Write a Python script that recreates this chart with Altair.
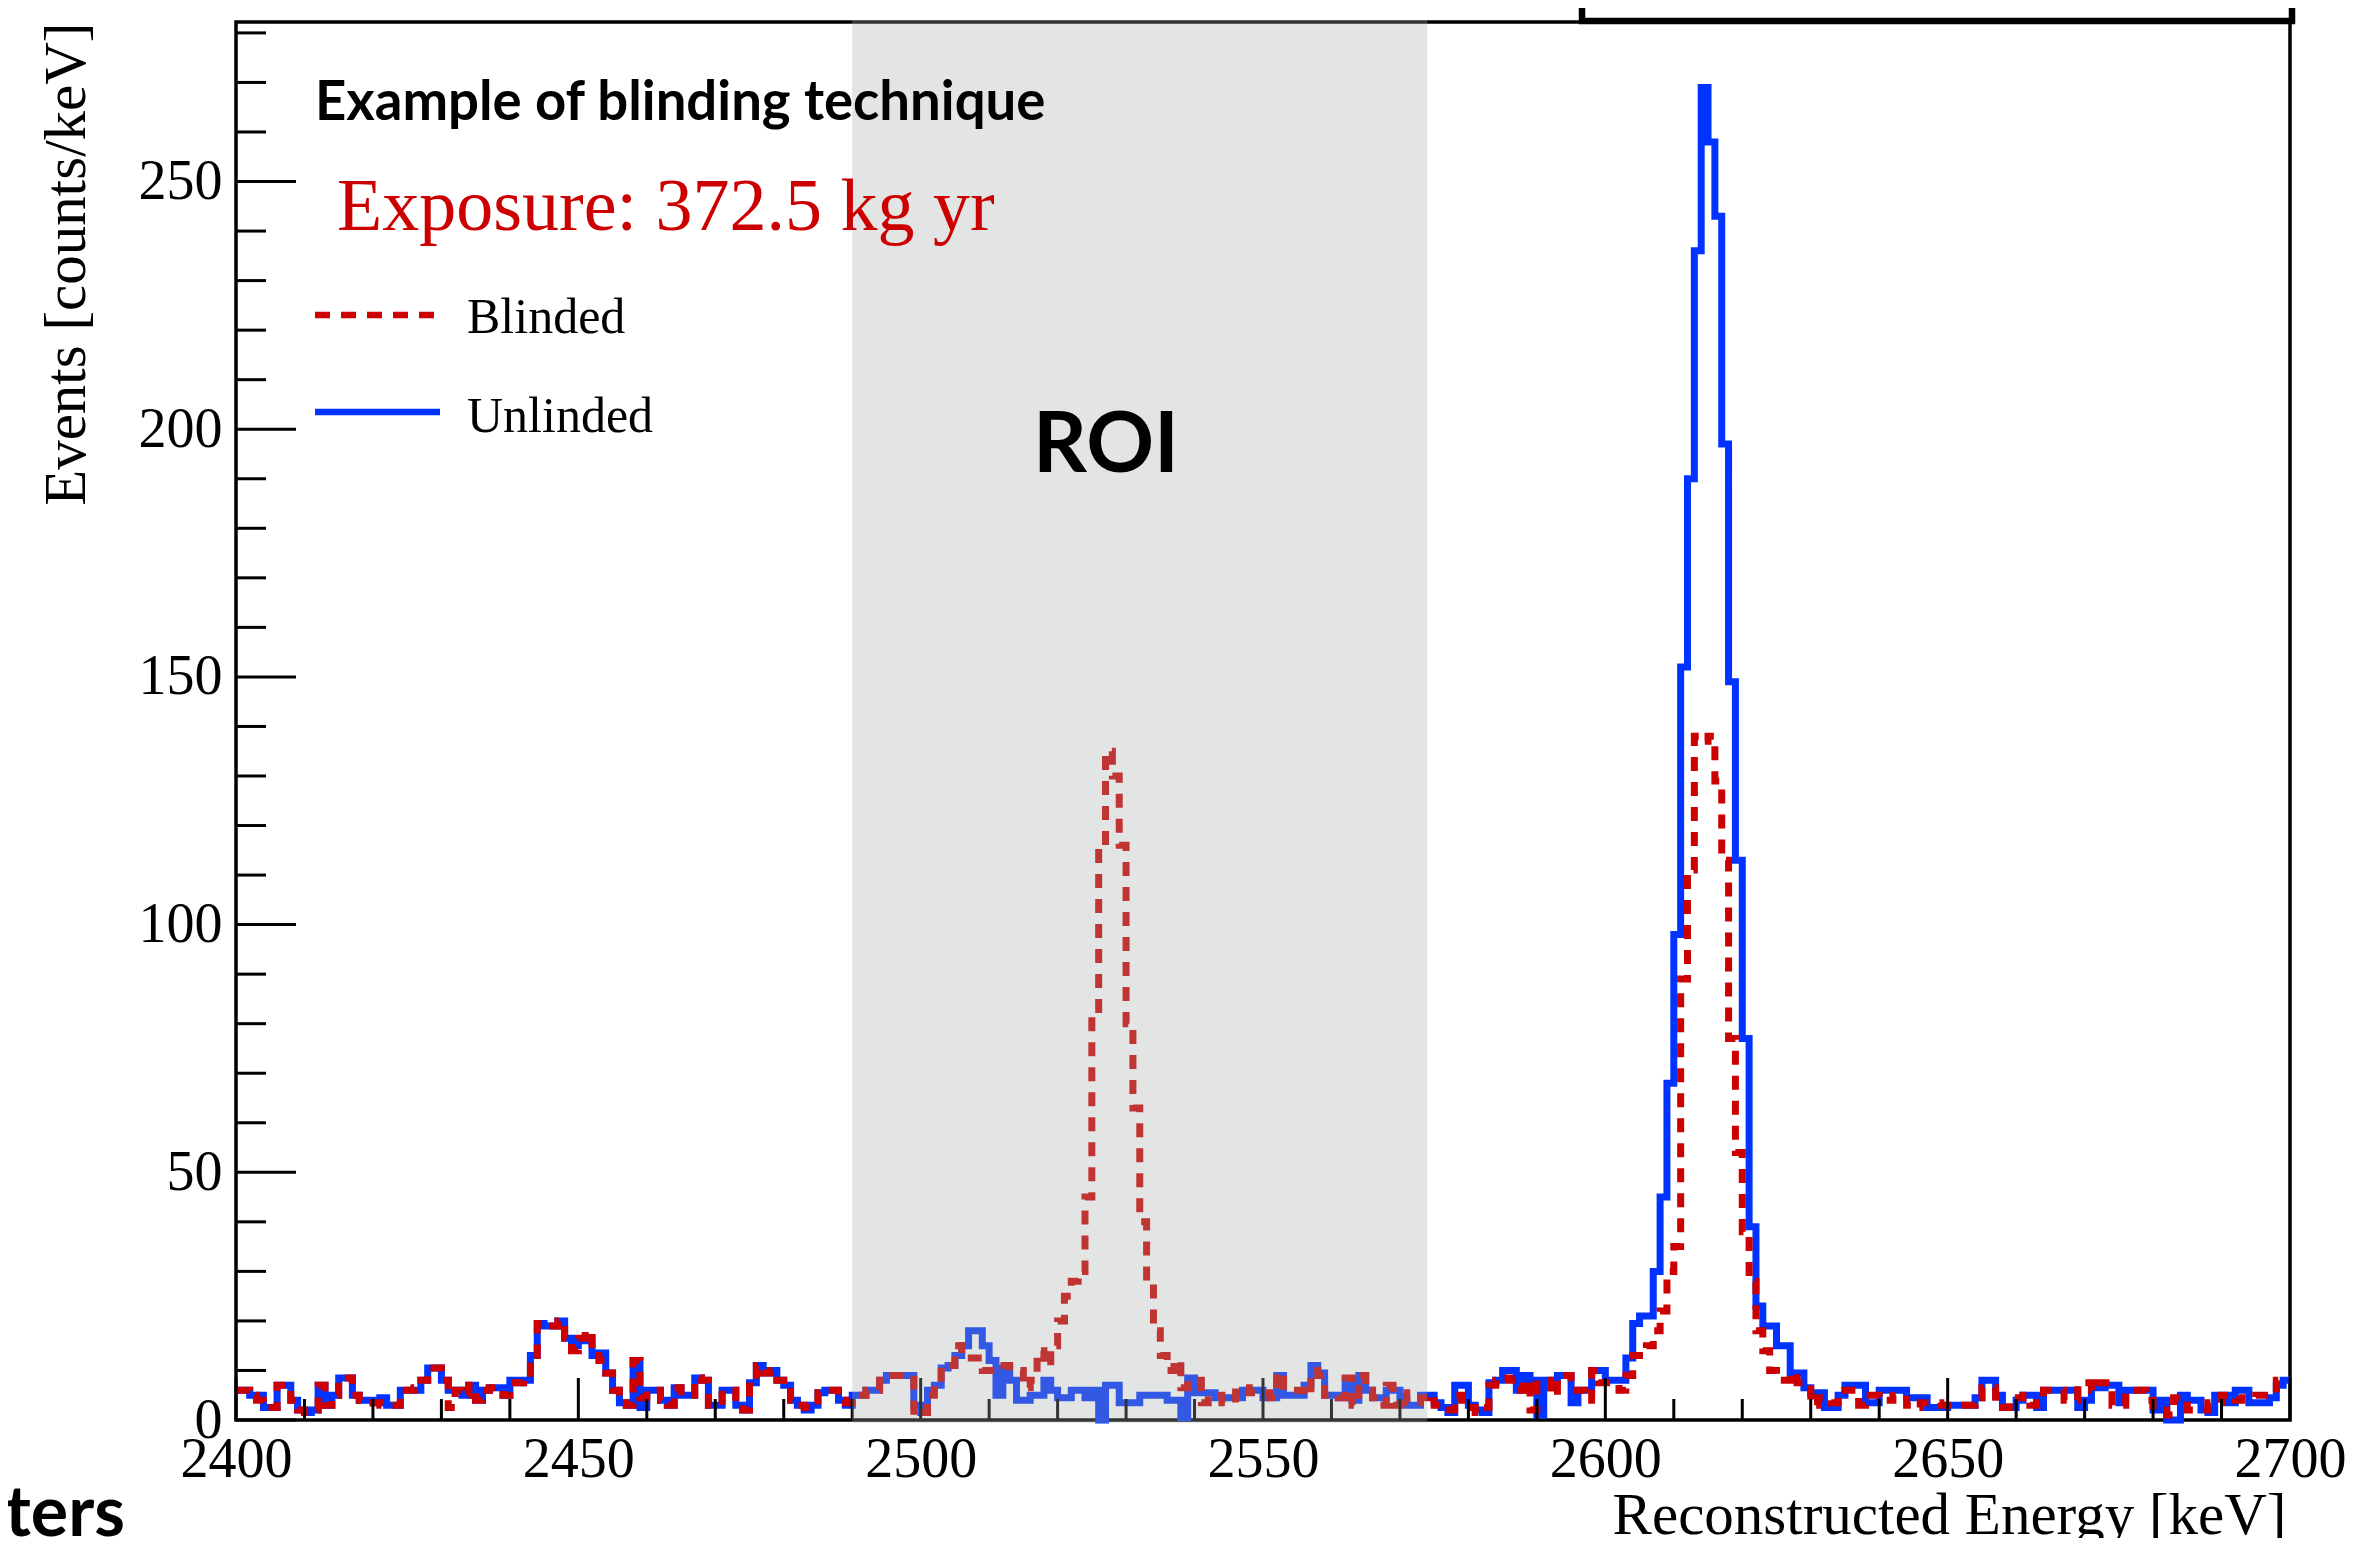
import altair as alt
import pandas as pd

# ---------------- data (1 keV bins, value listed at each bin's lower edge: 2400, 2401, ...) ----------------
e_start = 2400
unblinded = [
    6, 6, 5, 5, 2.5, 2.5, 7, 7, 4, 2,
    1.5, 2, 7, 3, 5, 8.5, 8.5, 5, 4, 4,
    3.5, 4.5, 3, 3, 6, 6, 6, 8, 10.5, 10.5,
    8, 6, 6, 5, 7, 4, 6, 6.5, 6.5, 5,
    8, 7.5, 8, 13, 19.5, 19, 19, 20, 16.5, 15,
    16, 16.5, 13, 13.5, 9.5, 6, 3.5, 3, 12, 2.5,
    6, 6, 4, 3, 6.5, 5, 5, 8.5, 8, 3,
    3, 6, 6, 3, 2, 7.5, 11, 9.5, 10, 8,
    7, 4, 3, 2, 3, 5.5, 6, 6, 4, 3,
    5, 5, 6, 6, 8, 9, 9, 9, 9, 3,
    1.5, 6, 7, 10.5, 11, 13, 15, 18, 18, 15,
    12, 5, 10.5, 8, 4, 4, 5, 5, 8, 6,
    4.5, 4.5, 6, 6, 4.5, 6, 0, 7, 7, 3.5,
    3.5, 3.5, 5, 5, 5, 5, 4, 4, 0.5, 8.5,
    5.5, 5.5, 5.5, 4.5, 4.5, 4.5, 4.5, 6, 6, 6,
    4.5, 4.5, 9, 5, 5, 5, 7, 11, 9.5, 5,
    5, 4.5, 8, 4, 9, 6, 4.5, 4.5, 6, 6,
    4.5, 3, 3, 5, 5, 3.5, 2.5, 1.5, 7, 7,
    3, 2, 1.5, 7.5, 8, 10, 10, 6, 9, 8,
    1, 8, 8, 9, 9, 3.5, 6, 6, 10, 10,
    8, 8, 8, 12.5, 19.5, 21, 21, 30, 45, 68,
    98, 152, 190, 236, 269, 258, 243, 197, 149, 113,
    77, 39, 23, 19, 19, 15, 15, 9.5, 9.5, 6.5,
    5.5, 5.5, 2.5, 2.5, 5, 7, 7, 7, 3.5, 3.5,
    6, 6, 6, 6, 4.5, 4.5, 4.5, 2.5, 2.5, 2.5,
    3, 3, 3, 3, 4.5, 8, 8, 5, 2.5, 2.5,
    4, 5, 5, 2.5, 6, 6, 6, 6, 6, 2.5,
    4, 6.5, 6.5, 7, 7, 3.5, 6, 6, 6, 6,
    2, 4, 0, 0, 5, 4, 4, 2, 1.5, 5,
    5, 3.5, 6, 6, 3.5, 3.5, 3.5, 4.5, 7, 8, 8,
]
blinded = [
    6, 6, 5, 4, 2.5, 2.5, 7, 7, 4, 2,
    1.5, 2, 7, 3, 5, 8.5, 8.5, 5, 4, 3.5,
    3.5, 3, 3, 3, 6, 6, 6.5, 8, 10.5, 10.5,
    8, 2.5, 6, 5, 7, 4, 6, 6.5, 6.5, 5,
    7.5, 7.5, 8, 13, 19.5, 19, 19, 20, 16.5, 14,
    16.5, 18, 13, 12, 9.5, 6, 3.5, 3, 12, 4.5,
    6, 6, 4, 3, 6.5, 5, 5, 8.5, 8, 3,
    3, 6, 6, 3, 2, 7.5, 11, 9.5, 10, 8,
    7, 4, 3, 2.5, 3, 5.5, 6, 6, 4, 3.5,
    5, 5, 6, 6, 8, 9, 9, 9, 9, 1,
    1.5, 5, 7.5, 11, 11, 15, 12.5, 12.5, 12.5, 10,
    10, 11, 11, 10, 10, 6.5, 8, 14, 11, 15,
    20, 25, 28, 30, 45, 82, 116, 135, 130, 116,
    80, 63, 40, 28, 18, 13, 10, 12, 6.5, 8,
    8, 3.5, 5, 5, 3.5, 3.5, 6.5, 6.5, 5.5, 5.5,
    5.5, 4.5, 9.5, 6, 6, 6, 5, 10, 9, 5,
    5, 4.5, 8.5, 3, 9, 6, 4.5, 3, 7, 3,
    5.5, 3.5, 3.5, 4.5, 5, 3, 2, 2, 5, 4,
    2.5, 1.5, 2.5, 7, 8, 8.5, 8, 6, 8, 2,
    8, 8, 5, 9, 9, 6, 6, 4, 10, 7.5,
    7.5, 7.5, 6, 9, 13, 13, 15, 18, 22, 30,
    35, 89, 111, 138, 137, 138, 129, 113, 77, 54,
    38, 28, 18, 14, 10, 8, 8, 9.5, 7.5, 7.5,
    3, 4.5, 4.5, 3.5, 5, 6, 6, 3, 5, 5,
    4, 4, 5, 5, 3, 2.5, 3.5, 3.5, 3.5, 3,
    3, 3, 3, 3, 4.5, 6.5, 6.5, 2.5, 2.5, 4.5,
    4.5, 5, 3, 3.5, 6, 6, 6, 4, 4, 7.5,
    7.5, 6, 7.5, 7.5, 3, 3, 6, 6, 6, 4,
    2, 2, 1, 4.5, 4.5, 2, 2, 2, 3.5, 3.5,
    5, 5, 4, 4.5, 4.5, 5, 5, 5, 8, 8, 8,
]
roi_low = [2490]
roi_high = [2574]
x_major = [2400, 2450, 2500, 2550, 2600, 2650, 2700]
x_minor = [v for v in range(2400, 2701, 10) if v % 50 != 0]
y_major = [0, 50, 100, 150, 200, 250]
y_minor = [v for v in range(10, 281, 10) if v % 50 != 0]
x_domain = [2400, 2700]
y_domain = [0, 282.2]

# ---------------- layout / style ----------------
W, H = 2054, 1398
SERIF = "Liberation Serif"
SANS = "Lato"
BLUE = "#0033ff"
RED = "#cc0000"

xs = alt.Scale(domain=x_domain, nice=False, zero=False)
ys = alt.Scale(domain=y_domain, nice=False, zero=False)

x_axis = alt.Axis(
    values=x_major, format="d", ticks=False, domain=False, grid=False,
    labelFont=SERIF, labelFontSize=56, labelColor="black", labelPadding=12,
    labelFlush=False, labelOverlap=False,
    title="Reconstructed Energy [keV]", titleFont=SERIF, titleFontSize=59,
    titleFontWeight="normal", titleColor="black", titleAlign="right",
    titleAnchor="end", titleBaseline="alphabetic", titleX=W - 4, titleY=113,
)
y_axis = alt.Axis(
    values=y_major, format="d", ticks=False, domain=False, grid=False,
    labelFont=SERIF, labelFontSize=56, labelColor="black", labelPadding=14,
    labelFlush=False, labelOverlap=False,
    title="Events [counts/keV]", titleFont=SERIF, titleFontSize=59,
    titleFontWeight="normal", titleColor="black", titleAngle=270,
    titleAlign="right", titleBaseline="alphabetic", titleX=-152, titleY=0,
)


def X(field):
    return alt.X(f"{field}:Q", scale=xs, axis=x_axis)


def Y(field):
    return alt.Y(f"{field}:Q", scale=ys, axis=y_axis)


df_u = pd.DataFrame({"E": list(range(e_start, e_start + len(unblinded))), "v": unblinded})
df_b = pd.DataFrame({"E": list(range(e_start, e_start + len(blinded))), "v": blinded})

blue_line = alt.Chart(df_u).mark_line(
    interpolate="step-after", color=BLUE, strokeWidth=7, strokeJoin="miter", strokeCap="butt"
).encode(x=X("E"), y=Y("v"))

red_line = alt.Chart(df_b).mark_line(
    interpolate="step-after", color=RED, strokeWidth=7, strokeDash=[14, 11],
    strokeJoin="miter", strokeCap="butt"
).encode(x=X("E"), y=Y("v"))

xt_major = alt.Chart(pd.DataFrame({"t": x_major})).mark_rule(color="black", strokeWidth=3).encode(
    x=X("t"), y=alt.value(H), y2=alt.value(H - 42))
xt_minor = alt.Chart(pd.DataFrame({"t": x_minor})).mark_rule(color="black", strokeWidth=3).encode(
    x=X("t"), y=alt.value(H), y2=alt.value(H - 21))
yt_major = alt.Chart(pd.DataFrame({"t": y_major})).mark_rule(color="black", strokeWidth=3).encode(
    y=Y("t"), x=alt.value(0), x2=alt.value(60))
yt_minor = alt.Chart(pd.DataFrame({"t": y_minor})).mark_rule(color="black", strokeWidth=3).encode(
    y=Y("t"), x=alt.value(0), x2=alt.value(30))

roi = alt.Chart(pd.DataFrame({"lo": roi_low, "hi": roi_high})).mark_rect(
    color="#a5aba8", opacity=0.31
).encode(x=X("lo"), x2="hi:Q", y=alt.value(-2), y2=alt.value(H + 3))

one = pd.DataFrame({"k": [0]})


def label(text, x, y, font, size, color="black", weight="normal", align="left"):
    return alt.Chart(one).mark_text(
        align=align, baseline="alphabetic", font=font, fontSize=size,
        color=color, fontWeight=weight
    ).encode(x=alt.value(x), y=alt.value(y), text=alt.value(text))


title_txt = label("Example of blinding technique", 79, 98, SANS, 54.5, weight="bold")
expo_txt = label("Exposure: 372.5 kg yr", 101, 208, SERIF, 74, color=RED)
roi_txt = label("ROI", 870, 450, SANS, 84, weight="bold", align="center")
leg_b_txt = label("Blinded", 231, 311, SERIF, 50)
leg_u_txt = label("Unlinded", 231, 410, SERIF, 50)
ters_txt = label("ters", -111, 1514, SANS, 70, weight="bold", align="right")

leg_b_line = alt.Chart(one).mark_rule(color=RED, strokeWidth=6.5, strokeDash=[15, 11]).encode(
    x=alt.value(79), x2=alt.value(203), y=alt.value(293))
leg_u_line = alt.Chart(one).mark_rule(color=BLUE, strokeWidth=6.5).encode(
    x=alt.value(79), x2=alt.value(204), y=alt.value(390))

top_box = alt.Chart(one).mark_rect(
    fill="white", fillOpacity=0, stroke="black", strokeWidth=6.5
).encode(x=alt.value(1346), x2=alt.value(2056), y=alt.value(-80), y2=alt.value(-1))

chart = alt.layer(
    blue_line, red_line, xt_major, xt_minor, yt_major, yt_minor, roi,
    title_txt, expo_txt, roi_txt, leg_b_line, leg_u_line, leg_b_txt, leg_u_txt,
    ters_txt, top_box,
).properties(
    width=W, height=H,
    padding={"left": 228, "top": 14, "right": 58, "bottom": 118},
    autosize=alt.AutoSizeParams(type="none"),
    background="white",
).configure_view(stroke="black", strokeWidth=3.5)

chart.save("out.html", embed_options={"renderer": "svg", "actions": False})
